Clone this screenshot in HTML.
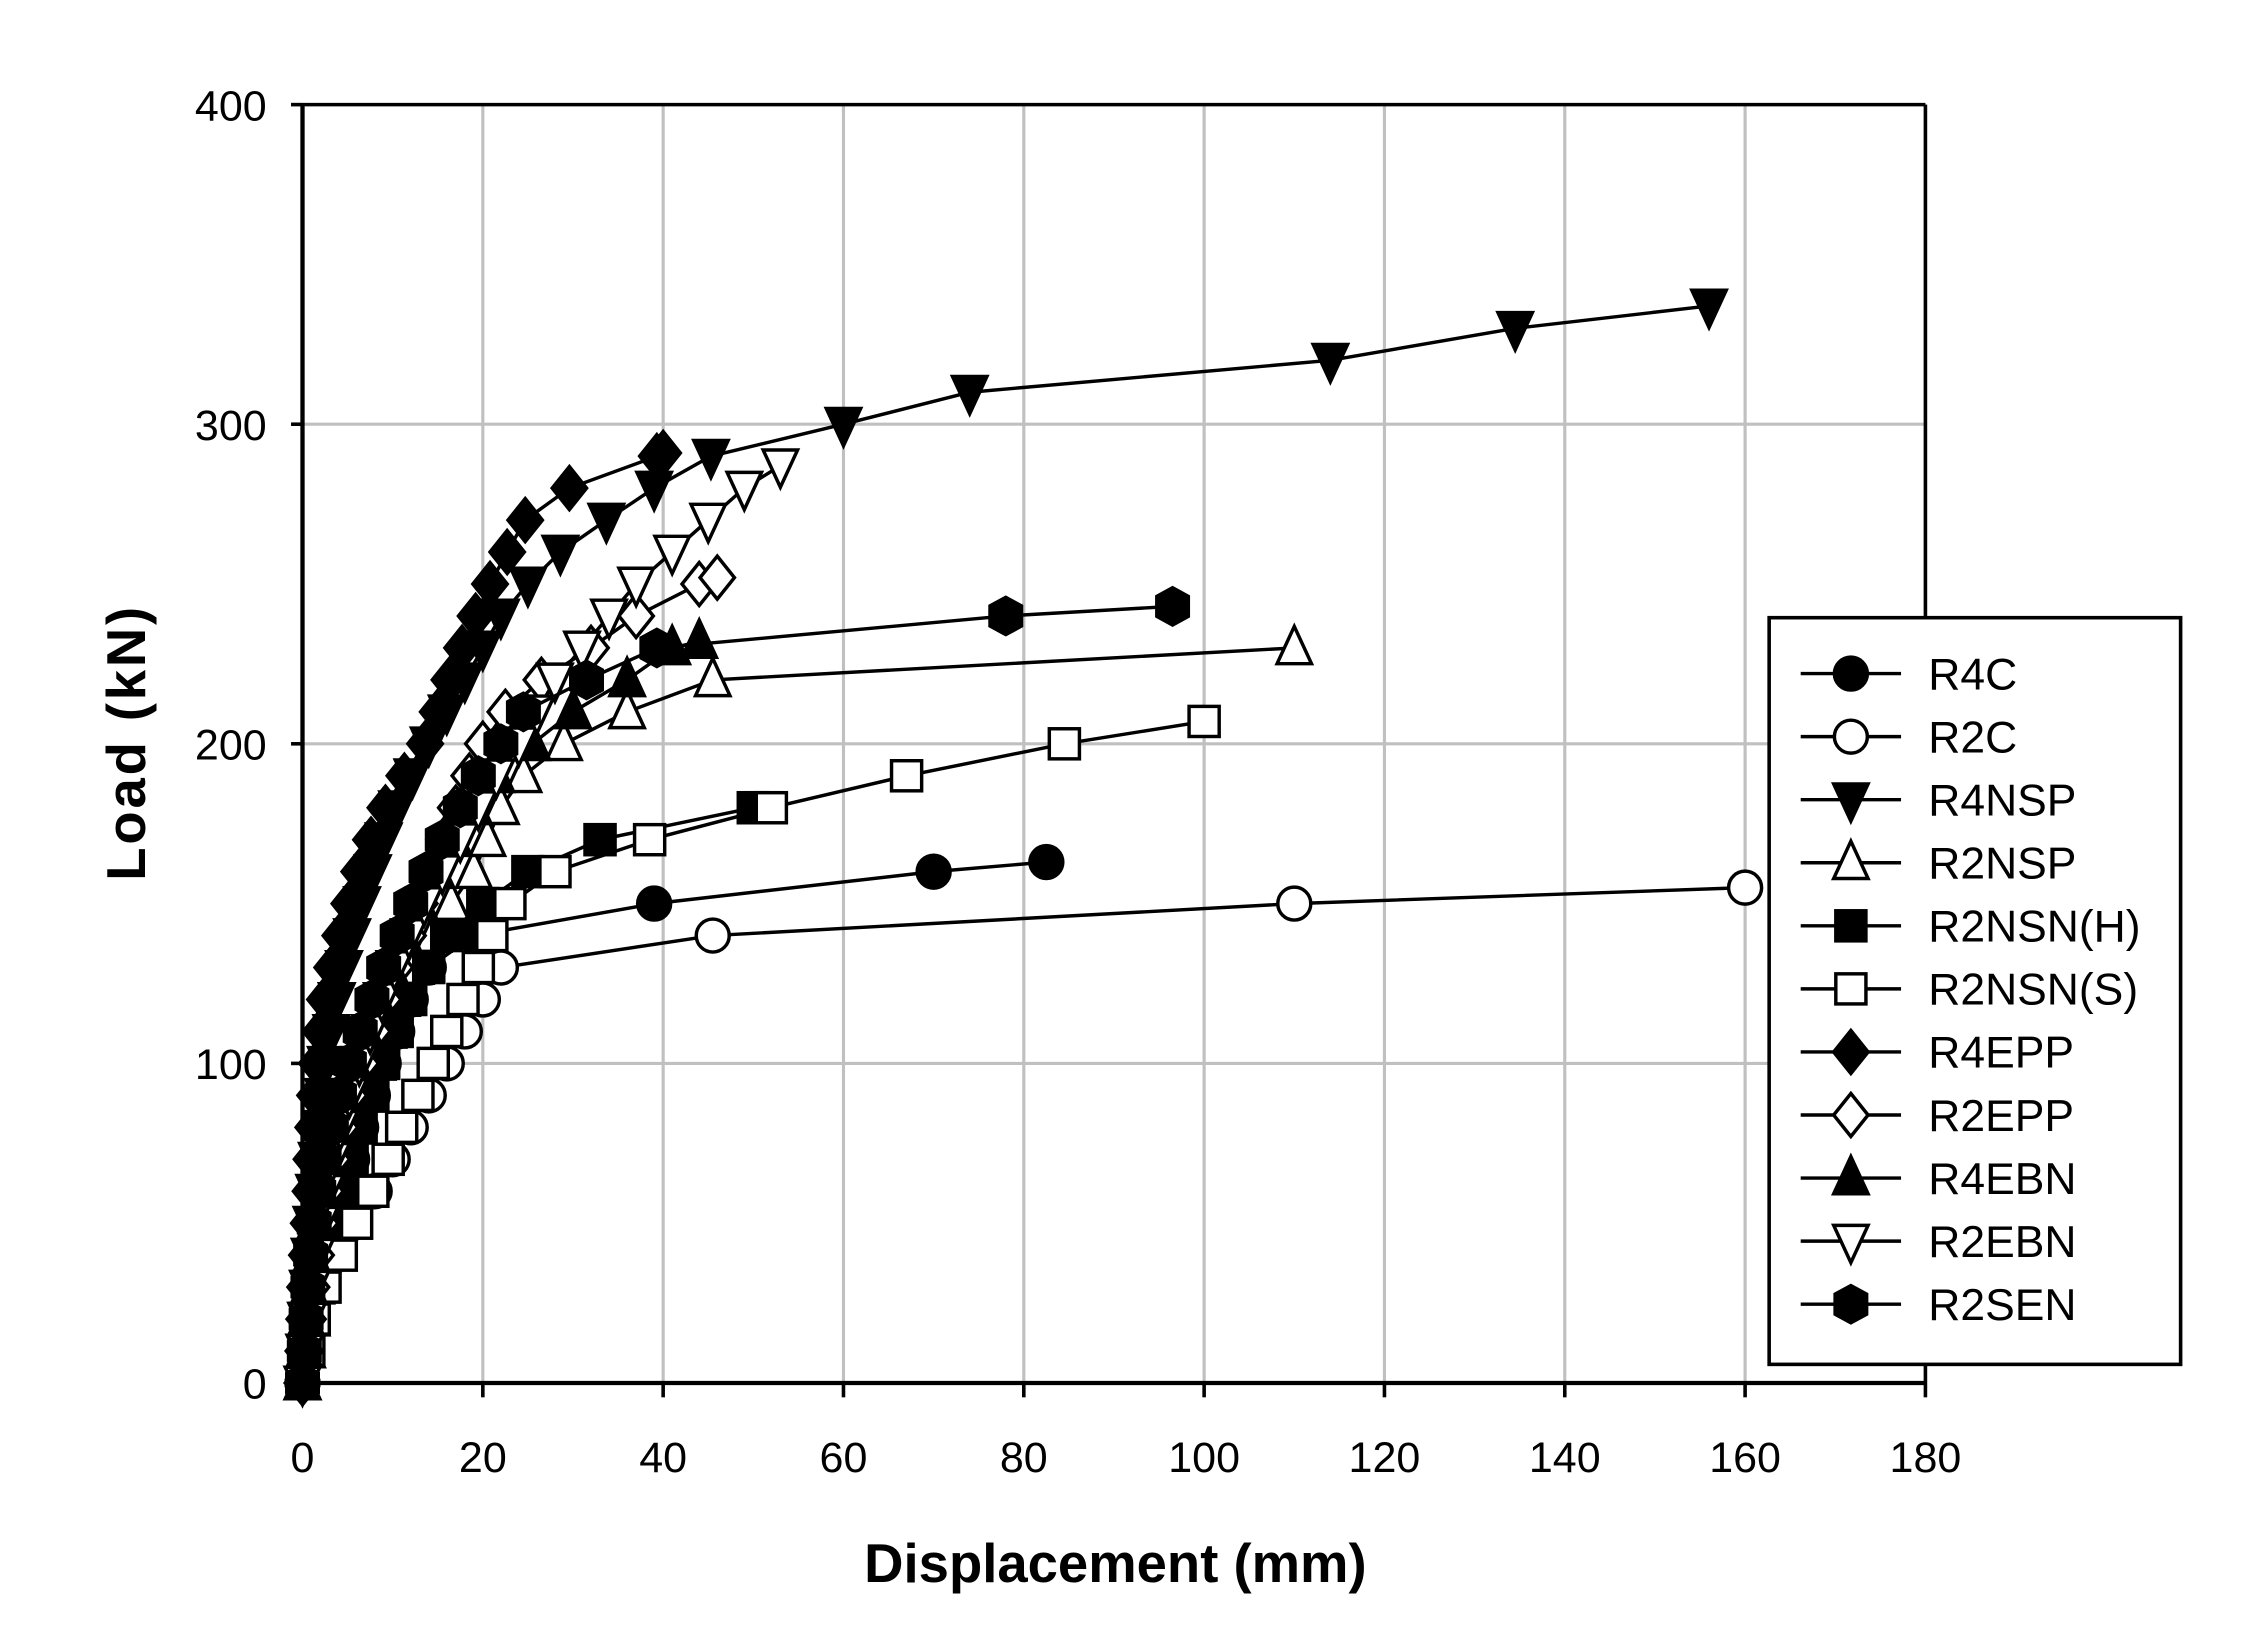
<!DOCTYPE html>
<html><head><meta charset="utf-8"><style>
html,body{margin:0;padding:0;background:#fff;}
svg{display:block;}
text{font-family:"Liberation Sans",Arial,sans-serif;}
</style></head><body>
<svg id="s" width="2248" height="1651" viewBox="0 0 1568 1152" preserveAspectRatio="none" xmlns="http://www.w3.org/2000/svg">
<rect width="1568" height="1152" fill="#fff"/>
<g id="grid"></g>
<g id="series"></g>
<g id="axes"></g>
<g id="legend"></g>
</svg>
<script>
const NS="http://www.w3.org/2000/svg";
const X0=211,X1=1343,Y0=965,Y1=73;
const sx=d=>X0+d*(X1-X0)/180, sy=l=>Y0-l*(Y0-Y1)/400;
function el(tag,attrs,parent,txt){const e=document.createElementNS(NS,tag);for(const k in attrs)e.setAttribute(k,attrs[k]);if(txt!==undefined)e.textContent=txt;parent.appendChild(e);return e;}
const G=document.getElementById('grid'),S=document.getElementById('series'),A=document.getElementById('axes'),L=document.getElementById('legend');
for(let d=20;d<=180;d+=20)el('line',{x1:sx(d),x2:sx(d),y1:Y1,y2:Y0,stroke:'#c0c0c0','stroke-width':2.2},G);
for(let l=100;l<=300;l+=100)el('line',{x1:X0,x2:X1,y1:sy(l),y2:sy(l),stroke:'#c0c0c0','stroke-width':2.2},G);
el('line',{x1:X0,x2:X1,y1:Y1,y2:Y1,stroke:'#000','stroke-width':2.5},A);
el('line',{x1:X1,x2:X1,y1:Y1,y2:Y0,stroke:'#000','stroke-width':2.5},A);
el('line',{x1:X0,x2:X1,y1:Y0,y2:Y0,stroke:'#000','stroke-width':3},A);
el('line',{x1:X0,x2:X0,y1:Y1,y2:Y0,stroke:'#000','stroke-width':3},A);
for(let d=0;d<=180;d+=20){el('line',{x1:sx(d),x2:sx(d),y1:Y0,y2:Y0+10,stroke:'#000','stroke-width':2.5},A);
 el('text',{x:sx(d),y:1027,'text-anchor':'middle','font-size':30},A,String(d));}
for(let l=0;l<=400;l+=100){el('line',{x1:X0-8,x2:X0,y1:sy(l),y2:sy(l),stroke:'#000','stroke-width':2.5},A);
 el('text',{x:186,y:sy(l)+11,'text-anchor':'end','font-size':30},A,String(l));}
el('text',{x:778,y:1104,'text-anchor':'middle','font-size':38,'font-weight':'bold'},A,'Displacement (mm)');
el('text',{x:0,y:0,'text-anchor':'middle','font-size':38,'font-weight':'bold','letter-spacing':'2',transform:'translate(101,518) rotate(-90)'},A,'Load (kN)');
function marker(type,x,y,p){const r=12;let fill=(type.f)?'#000':'#fff';const a={fill:fill,stroke:'#000','stroke-width':2.4};
 switch(type.s){
 case 'c':el('circle',Object.assign({cx:x,cy:y,r:r-0.5},a),p);break;
 case 'v':el('polygon',Object.assign({points:`${x-r},${y-r+1} ${x+r},${y-r+1} ${x},${y+r+3}`},a),p);break;
 case '^':el('polygon',Object.assign({points:`${x-r},${y+r-1} ${x+r},${y+r-1} ${x},${y-r-3}`},a),p);break;
 case 'sq':el('rect',Object.assign({x:x-r+1.5,y:y-r+1.5,width:2*r-3,height:2*r-3},a),p);break;
 case 'd':el('polygon',Object.assign({points:`${x},${y-r-3} ${x+r},${y} ${x},${y+r+3} ${x-r},${y}`},a),p);break;
 case 'h':el('polygon',Object.assign({points:`${x-r+1},${y-r+5} ${x},${y-r-1} ${x+r-1},${y-r+5} ${x+r-1},${y+r-5} ${x},${y+r+1} ${x-r+1},${y+r-5}`},a),p);break;
 }}
const series=[
 {n:'R4C',t:{s:'c',f:1},d:[[0,0],[0.5,10],[1,20],[1.5,30],[2.3,40],[3.5,50],[4.5,60],[5.5,70],[6.5,80],[7.8,90],[9,100],[10.5,110],[12,120],[14,130],[19,140],[39,150],[70,160],[82.5,163]]},
 {n:'R2C',t:{s:'c',f:0},d:[[0,0],[0.5,10],[1,20],[2,30],[3.5,40],[5.5,50],[8,60],[10,70],[12,80],[14,90],[16,100],[18,110],[20,120],[22,130],[45.5,140],[110,150],[160,155]]},
 {n:'R4NSP',t:{s:'v',f:1},d:[[0,0],[0.2,10],[0.4,20],[0.6,30],[0.8,40],[1,50],[1.3,60],[1.6,70],[2,80],[2.3,90],[2.6,100],[3.2,110],[3.8,120],[4.6,130],[5.5,140],[6.6,150],[7.8,160],[9,170],[10.5,180],[12.2,190],[14,200],[16,210],[18,220],[20,230],[22,240],[25,250],[28.6,260],[33.7,270],[39,280],[45.3,290],[60,300],[74,310],[114,320],[134.5,330],[156,337]]},
 {n:'R2NSP',t:{s:'^',f:0},d:[[0,0],[0.5,10],[1,20],[1.5,30],[2.2,40],[3,50],[4,60],[5,70],[6,80],[7,90],[8.3,100],[9.5,110],[11,120],[12.5,130],[14.5,140],[16.5,150],[19,160],[20.5,170],[22,180],[24.5,190],[29,200],[36,210],[45.5,220],[110,230]]},
 {n:'R2NSN(H)',t:{s:'sq',f:1},d:[[0,0],[0.5,10],[1,20],[1.5,30],[2.3,40],[3.3,50],[4.3,60],[5.5,70],[6.5,80],[7.8,90],[9,100],[10.5,110],[12,120],[14,130],[16,140],[20,150],[25,160],[33,170],[50,180]]},
 {n:'R2NSN(S)',t:{s:'sq',f:0},d:[[0,0],[0.7,10],[1.3,20],[2.5,30],[4.3,40],[6,50],[7.8,60],[9.5,70],[11,80],[12.8,90],[14.5,100],[16,110],[17.8,120],[19.5,130],[21,140],[23,150],[28,160],[38.5,170],[52,180],[67,190],[84.5,200],[100,207]]},
 {n:'R4EPP',t:{s:'d',f:1},d:[[0,0],[0.1,10],[0.2,20],[0.3,30],[0.5,40],[0.7,50],[0.9,60],[1,70],[1.2,80],[1.4,90],[1.6,100],[2,110],[2.5,120],[3.3,130],[4.2,140],[5.2,150],[6.3,160],[7.6,170],[9.2,180],[11.3,190],[13.6,200],[15,210],[16.3,220],[17.7,230],[19.2,240],[20.8,250],[22.7,260],[24.7,270],[29.6,280],[39.3,290],[40,291]]},
 {n:'R2EPP',t:{s:'d',f:0},d:[[0,0],[0.3,10],[0.6,20],[1,30],[1.5,40],[2,50],[2.6,60],[3.3,70],[4.2,80],[5.2,90],[6.5,100],[7.8,110],[9,120],[10.3,130],[11.7,140],[13,150],[14.3,160],[15.7,170],[17,180],[18.5,190],[20,200],[22.5,210],[26.5,220],[32,230],[37,240],[44,250],[46,252]]},
 {n:'R4EBN',t:{s:'^',f:1},d:[[0,0],[0.2,10],[0.4,20],[0.7,30],[1,40],[1.4,50],[2,60],[2.7,70],[3.5,80],[4.5,90],[5.7,100],[7,110],[8.3,120],[9.7,130],[11.2,140],[13,150],[14.8,160],[16.8,170],[19,180],[21.5,190],[25.5,200],[30,210],[36,220],[41,230],[44,232]]},
 {n:'R2EBN',t:{s:'v',f:0},d:[[0,0],[0.3,10],[0.6,20],[1,30],[1.5,40],[2,50],[2.6,60],[3.3,70],[4.2,80],[5.2,90],[6.3,100],[7.5,110],[8.8,120],[10.2,130],[11.8,140],[13.5,150],[15.5,160],[17.5,170],[19.5,180],[21.5,190],[24,200],[26,210],[28,220],[31,230],[34,240],[37,250],[41,260],[45,270],[49,280],[53,287]]},
 {n:'R2SEN',t:{s:'h',f:1},d:[[0,0],[0.2,10],[0.4,20],[0.6,30],[0.9,40],[1.3,50],[1.8,60],[2.4,70],[3.2,80],[4.1,90],[5.2,100],[6.4,110],[7.7,120],[9,130],[10.5,140],[12,150],[13.7,160],[15.5,170],[17.5,180],[19.5,190],[22,200],[24.5,210],[31.5,220],[39.3,230],[78,240],[96.5,243]]}
];
for(const s of series){
 const g=el('g',{},S);
 el('polyline',{points:s.d.map(p=>sx(p[0])+','+sy(p[1])).join(' '),fill:'none',stroke:'#000','stroke-width':2.4},g);
 for(const p of s.d)marker(s.t,sx(p[0]),sy(p[1]),g);
}
el('rect',{x:1234,y:431,width:287,height:521,fill:'#fff',stroke:'#000','stroke-width':2.5},L);
series.forEach((s,i)=>{const y=470+i*44;
 el('line',{x1:1256,x2:1326,y1:y,y2:y,stroke:'#000','stroke-width':2.4},L);
 marker(s.t,1291,y,L);
 el('text',{x:1345,y:y+11,'font-size':31},L,s.n);
});
</script>
</body></html>
